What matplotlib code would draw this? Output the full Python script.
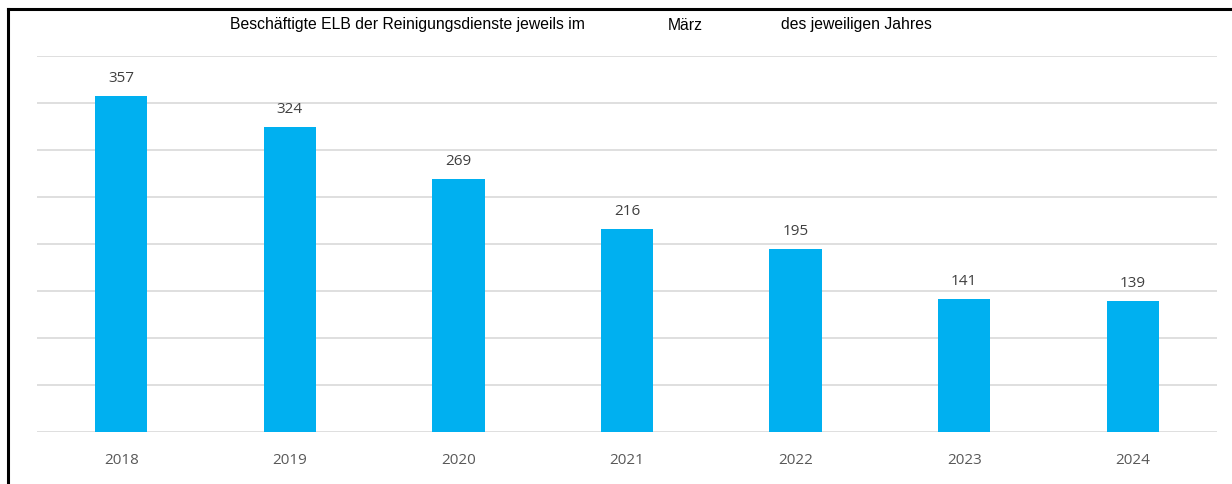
import matplotlib
matplotlib.use("Agg")
import matplotlib.pyplot as plt
from matplotlib.lines import Line2D

years = ["2018", "2019", "2020", "2021", "2022", "2023", "2024"]
values = [357, 324, 269, 216, 195, 141, 139]
title_parts = ["Beschäftigte ELB der Reinigungsdienste jeweils im", "März", "des jeweiligen Jahres"]

W, H = 1232, 485
fig = plt.figure(figsize=(W / 100, H / 100), dpi=100)
ax = fig.add_axes([37 / W, 1 - 433 / H, (1217 - 37) / W, (433 - 57) / H])

x = range(len(years))
bars = ax.bar(x, values, width=0.31, color="#00B0F0", zorder=3)
ax.set_xlim(-0.5, len(years) - 0.5)
ax.set_ylim(0, 400)
ax.set_yticks(range(0, 401, 50))
ax.yaxis.grid(True, color="#D9D9D9", linewidth=1.2, zorder=0)
ax.tick_params(axis="y", left=False, labelleft=False)
ax.tick_params(axis="x", bottom=False, pad=11)
ax.set_xticks(list(x))
ax.set_xticklabels(years, fontsize=11, color="#595959", family="Open Sans")
for s in ax.spines.values():
    s.set_visible(False)

for xi, v in zip(x, values):
    ax.annotate(str(v), (xi, v), xytext=(0, 8), textcoords="offset points",
                ha="center", va="bottom", fontsize=11, color="#404040", family="Open Sans")

# title pieces
for txt, px in zip(title_parts, [230, 668, 781]):
    fig.text(px / W, 1 - 25 / H, txt, ha="left", va="center", fontsize=11.3,
             family="Liberation Sans", color="black")

# frame lines
fig.add_artist(Line2D([8 / W, 8 / W], [0, 1 - 10 / H], transform=fig.transFigure, color="black", linewidth=2.2))
fig.add_artist(Line2D([8 / W, 1], [1 - 10 / H, 1 - 10 / H], transform=fig.transFigure, color="black", linewidth=2.2))

fig.savefig("out.png", dpi=100, facecolor="white")
